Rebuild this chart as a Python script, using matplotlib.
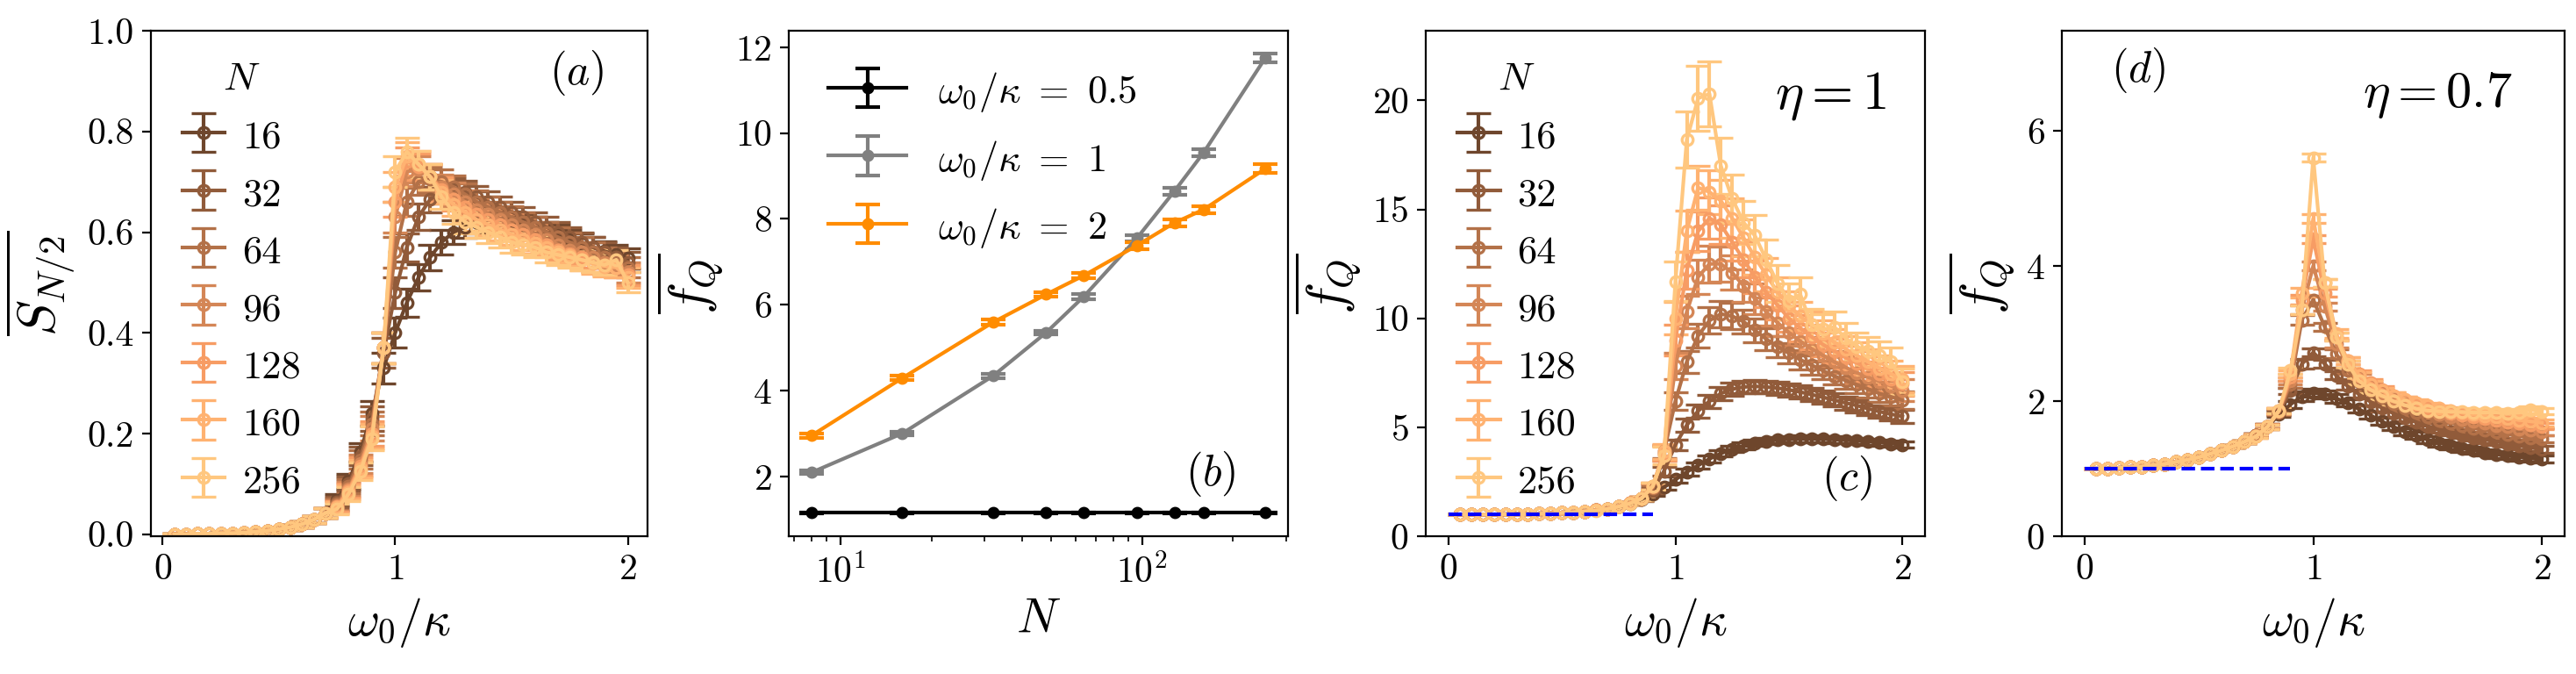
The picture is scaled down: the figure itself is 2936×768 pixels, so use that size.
import numpy as np
import matplotlib
matplotlib.use("Agg")
import matplotlib.pyplot as plt

plt.rcParams['font.family'] = 'serif'
plt.rcParams['font.serif'] = ['cmr10']
plt.rcParams['mathtext.fontset'] = 'cm'
plt.rcParams['axes.formatter.use_mathtext'] = True

# --- data ---
N_list = [16, 32, 64, 96, 128, 160, 256]
w = np.round(np.linspace(0.05, 2.0, 40), 2)  # omega_0 / kappa grid

# panel (a): half-chain entropy, low part shared (0.05..0.70)
a_low = [0.000, 0.000, 0.001, 0.001, 0.002, 0.002, 0.003, 0.005, 0.007, 0.010,
         0.014, 0.020, 0.029, 0.042]
a_16 = a_low + [0.068, 0.105, 0.163, 0.24, 0.33, 0.40, 0.46, 0.51, 0.55, 0.58, 0.60, 0.61, 0.62,
                0.625, 0.625, 0.62, 0.615, 0.61, 0.60, 0.595, 0.585, 0.578, 0.57, 0.562, 0.555, 0.548]
a_32 = a_low + [0.064, 0.10, 0.155, 0.23, 0.36, 0.48, 0.57, 0.63, 0.665, 0.68, 0.685, 0.68, 0.67,
                0.66, 0.65, 0.64, 0.63, 0.62, 0.61, 0.60, 0.59, 0.58, 0.57, 0.56, 0.55, 0.54]
a_64 = a_low + [0.06, 0.095, 0.148, 0.22, 0.37, 0.56, 0.66, 0.70, 0.705, 0.70, 0.69, 0.675, 0.66,
                0.65, 0.64, 0.63, 0.62, 0.61, 0.60, 0.59, 0.58, 0.57, 0.56, 0.55, 0.54, 0.53]
a_96 = a_low + [0.057, 0.09, 0.14, 0.21, 0.37, 0.63, 0.72, 0.725, 0.71, 0.69, 0.675, 0.66, 0.645,
                0.635, 0.625, 0.615, 0.605, 0.595, 0.585, 0.575, 0.565, 0.56, 0.55, 0.54, 0.535, 0.52]
a_128 = a_low + [0.055, 0.087, 0.135, 0.20, 0.37, 0.66, 0.74, 0.73, 0.71, 0.685, 0.665, 0.65, 0.635,
                 0.625, 0.615, 0.605, 0.595, 0.585, 0.575, 0.565, 0.558, 0.55, 0.54, 0.535, 0.53, 0.515]
a_160 = a_low + [0.053, 0.084, 0.13, 0.195, 0.37, 0.69, 0.75, 0.735, 0.71, 0.68, 0.655, 0.64, 0.625,
                 0.615, 0.605, 0.595, 0.585, 0.578, 0.57, 0.56, 0.553, 0.545, 0.538, 0.532, 0.53, 0.51]
a_256 = a_low + [0.05, 0.08, 0.125, 0.19, 0.37, 0.72, 0.76, 0.735, 0.71, 0.67, 0.64, 0.62, 0.61,
                 0.60, 0.59, 0.58, 0.575, 0.57, 0.56, 0.555, 0.55, 0.545, 0.54, 0.535, 0.545, 0.50]
a_err = [0.001, 0.001, 0.001, 0.001, 0.001, 0.002, 0.002, 0.003, 0.003, 0.004,
         0.005, 0.006, 0.007, 0.009, 0.011, 0.014, 0.018, 0.024, 0.03, 0.03,
         0.028, 0.026, 0.025, 0.024, 0.023, 0.022, 0.022, 0.021, 0.021, 0.021,
         0.02, 0.02, 0.02, 0.02, 0.02, 0.02, 0.02, 0.02, 0.02, 0.02]
S_half = [a_16, a_32, a_64, a_96, a_128, a_160, a_256]

# panel (b): QFI density vs N
N_b = [8, 16, 32, 48, 64, 96, 128, 160, 256]
fq_05 = [1.15, 1.15, 1.15, 1.15, 1.15, 1.15, 1.15, 1.15, 1.15]
fq_05_err = [0.01, 0.01, 0.01, 0.01, 0.01, 0.01, 0.01, 0.01, 0.01]
fq_1 = [2.09, 3.0, 4.34, 5.35, 6.19, 7.55, 8.65, 9.55, 11.75]
fq_1_err = [0.04, 0.04, 0.05, 0.05, 0.06, 0.07, 0.08, 0.08, 0.1]
fq_2 = [2.95, 4.29, 5.59, 6.24, 6.68, 7.38, 7.91, 8.22, 9.17]
fq_2_err = [0.05, 0.05, 0.06, 0.06, 0.07, 0.08, 0.08, 0.08, 0.1]

# panel (c): eta = 1, low part shared (0.05..0.60)
c_low = [1.00, 1.00, 1.00, 1.00, 1.01, 1.01, 1.02, 1.03, 1.05, 1.07, 1.10, 1.14]
c_16 = c_low + [1.19, 1.26, 1.36, 1.5, 1.7, 1.95, 2.25, 2.6, 2.95, 3.25, 3.55, 3.8, 4.0, 4.15,
                4.28, 4.36, 4.42, 4.45, 4.47, 4.47, 4.46, 4.44, 4.41, 4.38, 4.34, 4.3, 4.25, 4.2]
c_32 = c_low + [1.19, 1.26, 1.37, 1.52, 1.75, 2.1, 3.0, 4.2, 5.1, 5.75, 6.2, 6.55, 6.75, 6.85,
                6.88, 6.85, 6.8, 6.72, 6.62, 6.5, 6.38, 6.25, 6.12, 6.0, 5.85, 5.72, 5.6, 5.5]
c_64 = c_low + [1.19, 1.26, 1.37, 1.52, 1.75, 2.2, 3.9, 6.2, 8.0, 9.2, 9.9, 10.2, 10.1, 9.85,
                9.45, 9.05, 8.7, 8.4, 8.1, 7.85, 7.6, 7.35, 7.15, 6.95, 6.75, 6.55, 6.4, 6.25]
c_96 = c_low + [1.19, 1.26, 1.37, 1.52, 1.75, 2.25, 3.8, 7.8, 10.3, 11.9, 12.5, 12.5, 12.1, 11.5,
                10.9, 10.3, 9.8, 9.35, 8.95, 8.6, 8.3, 8.0, 7.75, 7.5, 7.3, 7.1, 6.9, 6.7]
c_128 = c_low + [1.19, 1.26, 1.37, 1.52, 1.75, 2.3, 3.8, 9.0, 12.2, 14.0, 14.6, 14.3, 13.5, 12.7,
                 11.9, 11.2, 10.6, 10.0, 9.55, 9.15, 8.8, 8.5, 8.2, 7.95, 7.7, 7.45, 7.2, 7.0]
c_160 = c_low + [1.19, 1.26, 1.37, 1.52, 1.74, 2.3, 3.9, 10.0, 14.0, 16.0, 15.8, 15.4, 14.6, 13.7,
                 12.8, 12.0, 11.2, 10.6, 10.1, 9.7, 9.3, 8.9, 8.6, 8.3, 8.0, 7.7, 7.45, 7.2]
c_256 = c_low + [1.18, 1.25, 1.36, 1.5, 1.72, 2.3, 3.7, 11.7, 18.2, 20.1, 20.3, 17.0, 15.5, 14.4,
                 13.8, 12.7, 11.6, 10.8, 11.1, 9.7, 9.5, 9.6, 9.1, 8.7, 8.5, 8.3, 8.0, 7.1]
c_err_low = [0.01, 0.01, 0.01, 0.01, 0.01, 0.01, 0.01, 0.02, 0.02, 0.02, 0.03, 0.03]
c_err_16 = c_err_low + [0.03, 0.04, 0.05, 0.06, 0.08, 0.1, 0.12, 0.14, 0.15, 0.15, 0.15, 0.15, 0.15, 0.15,
                        0.15, 0.15, 0.15, 0.15, 0.15, 0.15, 0.15, 0.15, 0.15, 0.15, 0.15, 0.15, 0.15, 0.15]
c_err_32 = c_err_low + [0.03, 0.04, 0.05, 0.06, 0.08, 0.12, 0.2, 0.25, 0.3, 0.3, 0.3, 0.3, 0.3, 0.3,
                        0.3, 0.3, 0.3, 0.3, 0.3, 0.3, 0.3, 0.3, 0.3, 0.3, 0.3, 0.3, 0.3, 0.3]
c_err_64 = c_err_low + [0.03, 0.04, 0.05, 0.06, 0.08, 0.15, 0.3, 0.4, 0.5, 0.55, 0.6, 0.6, 0.6, 0.55,
                        0.55, 0.5, 0.5, 0.45, 0.45, 0.45, 0.4, 0.4, 0.4, 0.4, 0.4, 0.4, 0.4, 0.4]
c_err_96 = c_err_low + [0.03, 0.04, 0.05, 0.06, 0.08, 0.15, 0.35, 0.6, 0.75, 0.8, 0.85, 0.8, 0.8, 0.75,
                        0.7, 0.65, 0.6, 0.6, 0.55, 0.55, 0.5, 0.5, 0.5, 0.5, 0.5, 0.5, 0.5, 0.5]
c_err_128 = c_err_low + [0.03, 0.04, 0.05, 0.06, 0.08, 0.15, 0.35, 0.7, 0.85, 0.9, 0.95, 0.9, 0.85, 0.8,
                         0.75, 0.7, 0.65, 0.6, 0.6, 0.55, 0.55, 0.55, 0.55, 0.55, 0.55, 0.55, 0.55, 0.55]
c_err_160 = c_err_low + [0.03, 0.04, 0.05, 0.06, 0.08, 0.15, 0.35, 0.75, 0.95, 1.0, 1.0, 0.95, 0.9, 0.85,
                         0.8, 0.75, 0.7, 0.65, 0.65, 0.6, 0.6, 0.6, 0.6, 0.6, 0.6, 0.6, 0.6, 0.6]
c_err_256 = c_err_low + [0.03, 0.04, 0.05, 0.06, 0.08, 0.15, 0.4, 0.9, 1.3, 1.5, 1.5, 1.3, 1.1, 1.0,
                         0.95, 0.9, 0.85, 0.8, 0.8, 0.75, 0.7, 0.7, 0.7, 0.65, 0.65, 0.65, 0.65, 0.6]
fq_eta1 = [c_16, c_32, c_64, c_96, c_128, c_160, c_256]
fq_eta1_err = [c_err_16, c_err_32, c_err_64, c_err_96, c_err_128, c_err_160, c_err_256]

# panel (d): eta = 0.7, low part shared (0.05..0.60)
d_low = [1.00, 1.00, 1.01, 1.02, 1.03, 1.05, 1.07, 1.10, 1.13, 1.17, 1.22, 1.27]
d_16 = d_low + [1.33, 1.40, 1.49, 1.62, 1.80, 1.95, 2.07, 2.12, 2.10, 2.04, 1.97, 1.88, 1.79, 1.70,
                1.62, 1.55, 1.49, 1.43, 1.38, 1.34, 1.30, 1.27, 1.24, 1.21, 1.19, 1.17, 1.15, 1.14]
d_32 = d_low + [1.33, 1.40, 1.49, 1.63, 1.83, 2.15, 2.55, 2.72, 2.55, 2.38, 2.22, 2.1, 1.99, 1.9,
                1.82, 1.75, 1.69, 1.63, 1.58, 1.54, 1.50, 1.46, 1.43, 1.40, 1.37, 1.34, 1.31, 1.29]
d_64 = d_low + [1.33, 1.40, 1.49, 1.63, 1.84, 2.25, 3.2, 3.5, 3.1, 2.7, 2.45, 2.28, 2.15, 2.05,
                1.96, 1.89, 1.83, 1.77, 1.72, 1.68, 1.64, 1.60, 1.57, 1.54, 1.51, 1.48, 1.46, 1.44]
d_96 = d_low + [1.33, 1.40, 1.49, 1.63, 1.85, 2.3, 3.35, 4.0, 3.4, 2.85, 2.55, 2.35, 2.22, 2.12,
                2.03, 1.96, 1.9, 1.85, 1.8, 1.76, 1.73, 1.70, 1.67, 1.64, 1.62, 1.59, 1.57, 1.55]
d_128 = d_low + [1.33, 1.40, 1.48, 1.62, 1.86, 2.35, 3.5, 4.4, 3.6, 2.95, 2.6, 2.4, 2.27, 2.17,
                 2.08, 2.01, 1.95, 1.9, 1.86, 1.82, 1.79, 1.76, 1.74, 1.71, 1.69, 1.67, 1.65, 1.63]
d_160 = d_low + [1.33, 1.40, 1.48, 1.62, 1.86, 2.4, 3.6, 4.7, 3.75, 3.0, 2.6, 2.38, 2.25, 2.15,
                 2.08, 2.02, 1.97, 1.93, 1.89, 1.86, 1.83, 1.80, 1.78, 1.76, 1.74, 1.72, 1.70, 1.68]
d_256 = d_low + [1.33, 1.40, 1.48, 1.62, 1.86, 2.45, 3.35, 5.6, 3.75, 2.95, 2.55, 2.3, 2.17, 2.08,
                 2.0, 1.94, 1.89, 1.86, 1.85, 1.84, 1.84, 1.83, 1.83, 1.83, 1.82, 1.83, 1.87, 1.85]
d_err = [0.005, 0.005, 0.005, 0.005, 0.005, 0.01, 0.01, 0.01, 0.01, 0.01,
         0.015, 0.015, 0.02, 0.02, 0.025, 0.03, 0.04, 0.05, 0.07, 0.06,
         0.06, 0.06, 0.05, 0.05, 0.05, 0.05, 0.05, 0.05, 0.05, 0.05,
         0.05, 0.05, 0.05, 0.05, 0.05, 0.05, 0.05, 0.05, 0.05, 0.05]
fq_eta07 = [d_16, d_32, d_64, d_96, d_128, d_160, d_256]

# --- styling ---
colors = plt.cm.copper(np.linspace(0.35, 1.0, len(N_list)))
tick_fs = 15
label_fs = 20
eb_kw = dict(marker='o', markersize=4.5, markerfacecolor='none', markeredgewidth=1.2,
             lw=1.5, elinewidth=1.5, capsize=5, capthick=1.5)

fig = plt.figure(figsize=(14.68, 3.84), dpi=200)
ax_a = fig.add_axes([0.0586, 0.2044, 0.1928, 0.75])
ax_b = fig.add_axes([0.3062, 0.2044, 0.1938, 0.75])
ax_c = fig.add_axes([0.5535, 0.2044, 0.1938, 0.75])
ax_d = fig.add_axes([0.8004, 0.2044, 0.1952, 0.75])


def n_legend(ax):
    leg = ax.legend(title=r'$N$', loc='upper left', frameon=False, fontsize=16,
                    title_fontsize=16.5, handlelength=1.1, handleheight=1.0,
                    handletextpad=0.45, labelspacing=0.48, borderaxespad=0.4)
    return leg


# --- (a) ---
for N, ys, col in zip(N_list, S_half, colors):
    ax_a.errorbar(w, ys, yerr=a_err, color=col, label=str(N), **eb_kw)
ax_a.set_xlim(-0.05, 2.085)
ax_a.set_ylim(-0.004, 1.0)
ax_a.set_yticks([0.0, 0.2, 0.4, 0.6, 0.8, 1.0])
ax_a.set_yticklabels(['0.0', '0.2', '0.4', '0.6', '0.8', '1.0'])
ax_a.set_xlabel(r'$\omega_0/\kappa$', fontsize=label_fs)
ax_a.set_ylabel(r'$\overline{S_{N/2}}$', fontsize=label_fs + 2)
ax_a.text(0.857, 0.917, r'$(a)$', transform=ax_a.transAxes, fontsize=18, ha='center', va='center')
n_legend(ax_a)

# --- (b) ---
ax_b.errorbar(N_b, fq_05, yerr=fq_05_err, color='black', marker='o', markersize=4, lw=1.5,
              capsize=5, capthick=1.5, label=r'$\omega_0/\kappa\ =\ 0.5$')
ax_b.errorbar(N_b, fq_1, yerr=fq_1_err, color='grey', marker='o', markersize=4, lw=1.5,
              capsize=5, capthick=1.5, label=r'$\omega_0/\kappa\ =\ 1$')
ax_b.errorbar(N_b, fq_2, yerr=fq_2_err, color='darkorange', marker='o', markersize=4, lw=1.5,
              capsize=5, capthick=1.5, label=r'$\omega_0/\kappa\ =\ 2$')
ax_b.set_xscale('log')
ax_b.set_yticks([2, 4, 6, 8, 10, 12])
ax_b.set_xlabel(r'$N$', fontsize=label_fs)
ax_b.set_ylabel(r'$\overline{f_Q}$', fontsize=label_fs + 2)
ax_b.text(0.845, 0.123, r'$(b)$', transform=ax_b.transAxes, fontsize=18, ha='center', va='center')
ax_b.legend(loc='upper left', frameon=False, fontsize=16, handleheight=1.0,
            labelspacing=0.62, handletextpad=0.8, borderaxespad=0.62)

# --- (c) ---
for N, ys, es, col in zip(N_list, fq_eta1, fq_eta1_err, colors):
    ax_c.errorbar(w, ys, yerr=es, color=col, label=str(N), **eb_kw)
ax_c.plot([0, 0.9], [1, 1], color='blue', ls='--', lw=1.5, zorder=10)
ax_c.set_xlim(-0.1, 2.1)
ax_c.set_ylim(0, 23.2)
ax_c.set_yticks([0, 5, 10, 15, 20])
ax_c.set_xlabel(r'$\omega_0/\kappa$', fontsize=label_fs)
ax_c.set_ylabel(r'$\overline{f_Q}$', fontsize=label_fs + 2)
ax_c.text(0.81, 0.87, r'$\eta=1$', transform=ax_c.transAxes, fontsize=22, ha='center', va='center')
ax_c.text(0.843, 0.115, r'$(c)$', transform=ax_c.transAxes, fontsize=18, ha='center', va='center')
n_legend(ax_c)

# --- (d) ---
for N, ys, col in zip(N_list, fq_eta07, colors):
    ax_d.errorbar(w, ys, yerr=d_err, color=col, label=str(N), **eb_kw)
ax_d.plot([0, 0.9], [1, 1], color='blue', ls='--', lw=1.5, zorder=10)
ax_d.set_xlim(-0.1, 2.1)
ax_d.set_ylim(0, 7.48)
ax_d.set_yticks([0, 2, 4, 6])
ax_d.set_xlabel(r'$\omega_0/\kappa$', fontsize=label_fs)
ax_d.set_ylabel(r'$\overline{f_Q}$', fontsize=label_fs + 2)
ax_d.text(0.747, 0.873, r'$\eta=0.7$', transform=ax_d.transAxes, fontsize=21, ha='center', va='center')
ax_d.text(0.152, 0.922, r'$(d)$', transform=ax_d.transAxes, fontsize=18, ha='center', va='center')

for ax in [ax_a, ax_c, ax_d]:
    ax.set_xticks([0, 1, 2])
for ax in [ax_a, ax_b, ax_c, ax_d]:
    ax.tick_params(labelsize=tick_fs)

fig.savefig('out.png', dpi=200)
